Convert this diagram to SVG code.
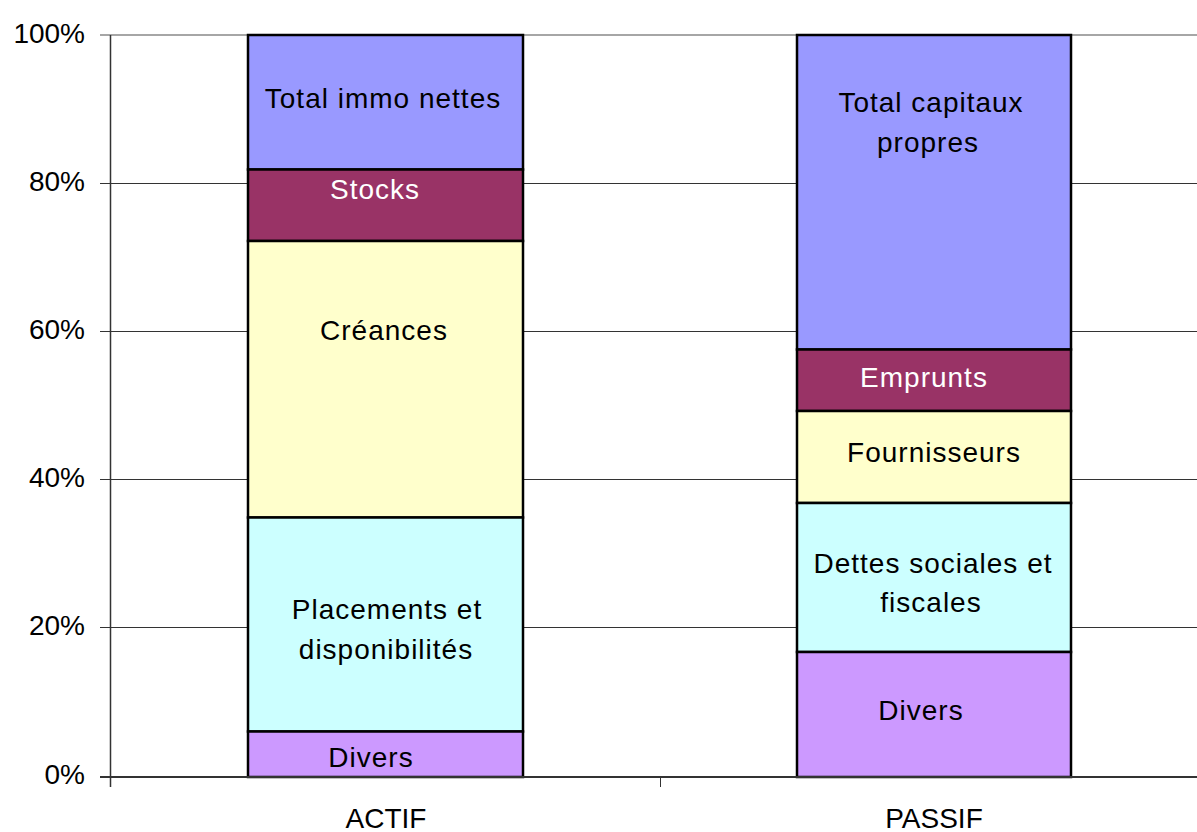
<svg xmlns="http://www.w3.org/2000/svg" width="1197" height="832" viewBox="0 0 1197 832">
<style>
text{font-family:"Liberation Sans",Arial,sans-serif;font-size:28px;fill:#000}
.ax{text-anchor:end}
.c{text-anchor:middle}
.lb{letter-spacing:1px}
.w{fill:#fff}
.grid{stroke:#333;stroke-width:1}
.seg{stroke:#000;stroke-width:2.5}
.b{fill:#9999FF}.m{fill:#993366}.y{fill:#FFFFCC}.cy{fill:#CCFFFF}.l{fill:#CC99FF}
</style>
<rect width="1197" height="832" fill="#fff"/>
<g id="grid">
<line x1="100" y1="35" x2="1197" y2="35" style="stroke:#888;stroke-width:1.5"/>
<line class="grid" x1="100" y1="183.5" x2="1197" y2="183.5"/>
<line class="grid" x1="100" y1="331.5" x2="1197" y2="331.5"/>
<line class="grid" x1="100" y1="479.5" x2="1197" y2="479.5"/>
<line class="grid" x1="100" y1="627.5" x2="1197" y2="627.5"/>
</g>
<g id="axis-labels">
<text class="ax" x="85" y="43">100%</text>
<text class="ax" x="85" y="191">80%</text>
<text class="ax" x="85" y="339">60%</text>
<text class="ax" x="85" y="487">40%</text>
<text class="ax" x="85" y="635">20%</text>
<text class="ax" x="85" y="784">0%</text>
<text class="c" x="386" y="828">ACTIF</text>
<text class="c" x="934" y="828">PASSIF</text>
</g>
<g id="bar-actif">
<rect class="seg b" x="248" y="35" width="275" height="134.5"/>
<rect class="seg m" x="248" y="169.5" width="275" height="71.5"/>
<rect class="seg y" x="248" y="241" width="275" height="276.5"/>
<rect class="seg cy" x="248" y="517.5" width="275" height="214"/>
<rect class="seg l" x="248" y="731.5" width="275" height="45.5"/>
<text class="c lb" x="383" y="108">Total immo nettes</text>
<text class="c lb w" x="375" y="199">Stocks</text>
<text class="c lb" x="384" y="340">Créances</text>
<text class="c lb" x="387" y="619">Placements et</text>
<text class="c lb" x="386" y="659">disponibilités</text>
<text class="c lb" x="371" y="767">Divers</text>
</g>
<g id="bar-passif">
<rect class="seg b" x="797" y="35" width="274" height="314.5"/>
<rect class="seg m" x="797" y="349.5" width="274" height="61.5"/>
<rect class="seg y" x="797" y="411" width="274" height="92"/>
<rect class="seg cy" x="797" y="503" width="274" height="149"/>
<rect class="seg l" x="797" y="652" width="274" height="125"/>
<text class="c lb" x="931" y="112">Total capitaux</text>
<text class="c lb" x="928" y="152">propres</text>
<text class="c lb w" x="924" y="387">Emprunts</text>
<text class="c lb" x="934" y="462">Fournisseurs</text>
<text class="c lb" x="933" y="573">Dettes sociales et</text>
<text class="c lb" x="931" y="612">fiscales</text>
<text class="c lb" x="921" y="720">Divers</text>
</g>
<g id="axes">
<line x1="110.5" y1="35" x2="110.5" y2="787" stroke="#333" stroke-width="1.5"/>
<line x1="100" y1="777" x2="1197" y2="777" stroke="#333" stroke-width="2"/>
<line x1="660.5" y1="777" x2="660.5" y2="787" stroke="#333" stroke-width="1"/>
</g>
</svg>
